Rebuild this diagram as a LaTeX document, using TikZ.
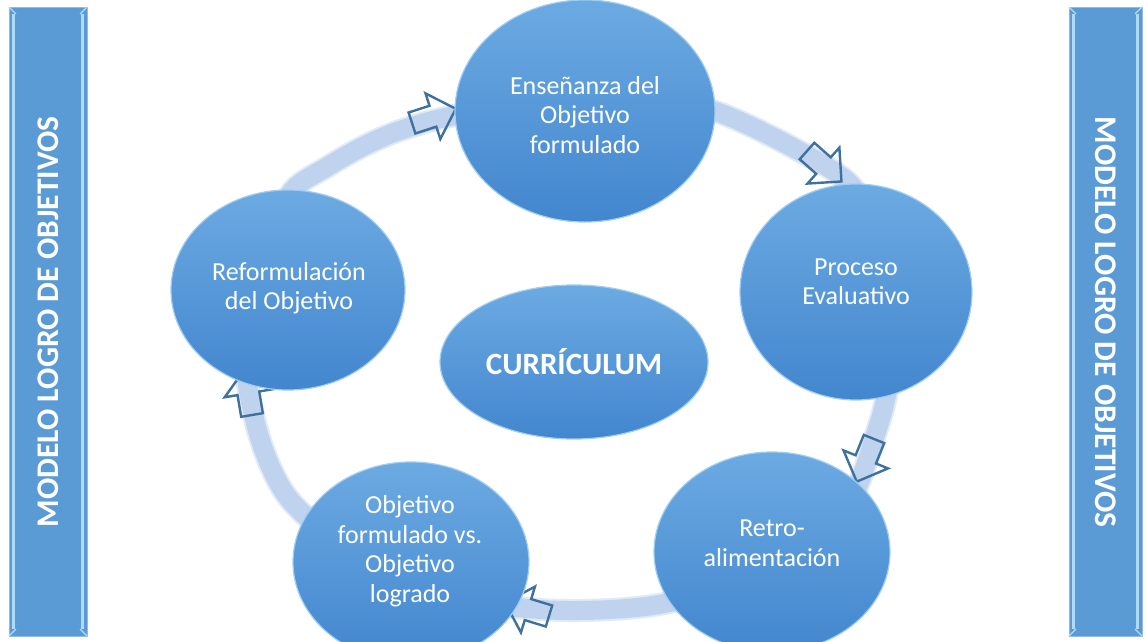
\documentclass[tikz,border=0pt]{standalone}
\usepackage{fontspec}
\setmainfont{Carlito}
\usetikzlibrary{shapes.geometric}
\definecolor{barblue}{RGB}{91,155,213}
\definecolor{barlight}{RGB}{175,218,248}
\definecolor{baredge}{RGB}{150,185,222}
\definecolor{bubtop}{RGB}{108,170,226}
\definecolor{bubbot}{RGB}{66,134,206}
\definecolor{bubrim}{RGB}{160,205,242}
\definecolor{bandc}{RGB}{192,211,238}
\definecolor{bandh}{RGB}{224,234,248}
\definecolor{arrc}{RGB}{64,112,156}
\begin{document}
\begin{tikzpicture}[x=1pt,y=-1pt,
  bub/.style={ellipse, top color=bubtop, bottom color=bubbot, draw=bubrim, line width=1.2pt, inner sep=0pt},
  bubtxt/.style={text=white, align=center, inner sep=0pt, font=\fontsize{26}{29.5}\selectfont},
  ctrtxt/.style={text=white, align=center, inner sep=0pt, font=\bfseries\fontsize{31}{36}\selectfont},
  bartxt/.style={text=white, inner sep=0pt, font=\bfseries\fontsize{31.5}{36}\selectfont},
  barbox/.style={fill=barblue, draw=baredge, line width=0.8pt},
  barstripe/.style={draw=barlight, line width=2.2pt},
  band/.style={draw=bandh, line width=2pt, double=bandc, double distance=19pt},
  arrline/.style={draw=arrc, line width=2.4pt, line join=miter},
  blockarr/.pic={\draw[arrline] (0,-11)--(22,-11)--(22,-24)--(46,0)--(22,24)--(22,11)--(0,11)--cycle;}
]
\useasboundingbox (0,0) rectangle (1146,642);
\fill[white] (0,0) rectangle (1146,642);

% side bars
\path[barbox] (9,7) rectangle (87,636);
\draw[barstripe] (13.5,14) -- (13.5,629);
\draw[barstripe] (82.5,14) -- (82.5,629);
\draw[barstripe, line width=1.2pt] (9,7) -- (16,14) (87,7) -- (80,14) (9,636) -- (16,629) (87,636) -- (80,629);
\node[bartxt, rotate=90] (lt) at (48,322) {MODELO LOGRO DE OBJETIVOS};

\path[barbox] (1069,7) rectangle (1142,636);
\draw[barstripe] (1073.5,14) -- (1073.5,629);
\draw[barstripe] (1137.5,14) -- (1137.5,629);
\draw[barstripe, line width=1.2pt] (1069,7) -- (1076,14) (1142,7) -- (1135,14) (1069,636) -- (1076,629) (1142,636) -- (1135,629);
\node[bartxt, rotate=-90] (rt) at (1106,322) {MODELO LOGRO DE OBJETIVOS};

% ring
\draw[band] plot[smooth cycle, tension=0.5] coordinates {
 (457,115) (520,101) (587,97) (655,101) (717,112) (790,146) (850,184) (880,240)
 (893,310) (889,380) (877,430) (845,510) (770,575) (667,603) (600,610) (533,609)
 (450,597) (350,550) (290,500) (262,445) (246,373) (250,300) (265,240) (293,190)
 (327,167) (360,148) (393,133) (427,122)};

% arrows
\pic[rotate=18] (a1) at (412,123) {blockarr};
\pic[rotate=-41.5] (a2) at (807,151) {blockarr};
\pic[rotate=-112] (a3) at (874,439) {blockarr};
\pic[rotate=163] (a4) at (549,616) {blockarr};
\pic[rotate=99.5] (a5) at (252,415) {blockarr};

% circles
\node[bub, minimum width=260pt, minimum height=222pt] (c1) at (585,111) {};
\node[bub, minimum width=232pt, minimum height=216pt] (c2) at (856,292) {};
\node[bub, minimum width=236pt, minimum height=200pt] (c3) at (772,552) {};
\node[bub, minimum width=236pt, minimum height=200pt] (c4) at (411,562) {};
\node[bub, minimum width=234pt, minimum height=200pt] (c5) at (288,290) {};
\node[bub, minimum width=268pt, minimum height=154pt] (c0) at (574,362) {};

\node[bubtxt] (t1) at (585,115) {Enseñanza del\\Objetivo\\formulado};
\node[bubtxt] (t2) at (856,282) {Proceso\\Evaluativo};
\node[bubtxt] (t3) at (772,543) {Retro-\\alimentación};
\node[bubtxt] (t4) at (410,551) {Objetivo\\formulado vs.\\Objetivo\\logrado};
\node[bubtxt] (t5) at (289,288) {Reformulación\\del Objetivo};
\node[ctrtxt] (t0) at (574,362) {CURRÍCULUM};
\end{tikzpicture}
\end{document}
